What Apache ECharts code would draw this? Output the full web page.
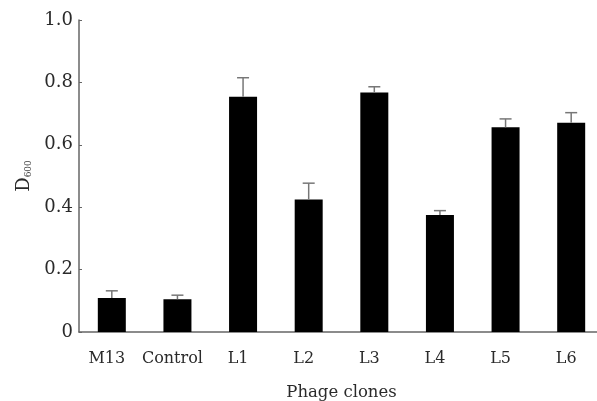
<!DOCTYPE html>
<html><head><meta charset="utf-8">
<script src="https://cdn.jsdelivr.net/npm/echarts@6/dist/echarts.min.js"></script>
<style>html,body{margin:0;padding:0;background:#fff}#c{width:597px;height:401px}</style>
</head><body><div id="c"></div>
<script>
var categories = ['M13', 'Control', 'L1', 'L2', 'L3', 'L4', 'L5', 'L6'];
var values = [0.109, 0.105, 0.754, 0.425, 0.768, 0.375, 0.656, 0.671];
var errors = [0.023, 0.013, 0.061, 0.052, 0.018, 0.014, 0.027, 0.032];
var yTicks = [0, 0.2, 0.4, 0.6, 0.8, 1.0];

var chart = echarts.init(document.getElementById('c'));
var font = '"DejaVu Serif", "Liberation Serif", serif';
chart.setOption({
  animation: false,
  grid: { left: 79, right: -7, top: 20, bottom: 69, outerBoundsMode: 'none', containLabel: false },
  xAxis: {
    type: 'category', data: categories,
    name: 'Phage clones', nameLocation: 'middle', nameGap: 52,
    nameTextStyle: { fontFamily: font, fontSize: 16.5, color: '#2a2a2a' },
    axisLine: { lineStyle: { color: '#666', width: 1.5 } },
    axisTick: { show: false },
    axisLabel: { fontFamily: font, fontSize: 16, color: '#2a2a2a', margin: 19, interval: 0,
      padding: [0, 10, 0, 0] }
  },
  yAxis: {
    type: 'value', min: yTicks[0], max: yTicks[yTicks.length - 1], interval: 0.2,
    name: '{a|D}{b|600}', nameLocation: 'middle', nameGap: 46, nameRotate: 90,
    nameTextStyle: { rich: {
      a: { fontFamily: font, fontSize: 18, color: '#2a2a2a' },
      b: { fontFamily: font, fontSize: 9, color: '#444', verticalAlign: 'bottom', padding: [9, 0, 0, 0] }
    } },
    axisLine: { show: true, lineStyle: { color: '#666', width: 1.5 } },
    axisTick: { show: true, inside: true, length: 3, lineStyle: { color: '#666' } },
    splitLine: { show: false },
    axisLabel: { fontFamily: font, fontSize: 18, color: '#2a2a2a', margin: 6,
      formatter: function (v) { return v === 0 ? '0' : v.toFixed(1); } }
  },
  series: [
    { type: 'bar', data: values, barWidth: 28, itemStyle: { color: '#000' } },
    { type: 'custom', data: values.map(function (v, i) { return [i, v, errors[i]]; }),
      renderItem: function (params, api) {
        var i = api.value(0), v = api.value(1), e = api.value(2);
        var p0 = api.coord([i, v]);
        var p1 = api.coord([i, v + e]);
        var st = { stroke: '#777', lineWidth: 1.5 };
        return { type: 'group', children: [
          { type: 'line', shape: { x1: p0[0], y1: p0[1], x2: p1[0], y2: p1[1] }, style: st },
          { type: 'line', shape: { x1: p1[0] - 6, y1: p1[1], x2: p1[0] + 6, y2: p1[1] }, style: st }
        ] };
      }, z: 3 }
  ]
});
</script></body></html>
